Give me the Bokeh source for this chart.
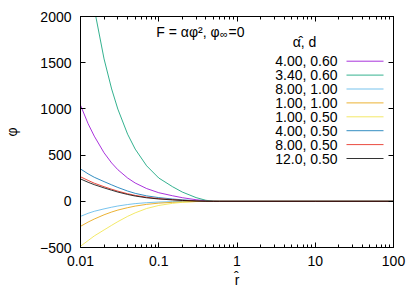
from bokeh.plotting import figure
from bokeh.models import FixedTicker, LogAxis, LinearAxis, Label, Arrow, Range1d
from bokeh.embed import file_html
from bokeh.resources import INLINE

# ---- data ----
r_hat = [0.01, 0.0125, 0.015, 0.02, 0.025, 0.03, 0.04, 0.05, 0.07, 0.1,
         0.15, 0.2, 0.3, 0.4, 0.5, 0.6, 1, 10, 100]

phi_400_060 = [1040, 840, 705, 525, 415, 342, 252, 198, 138, 93, 60, 39, 17, 6, 1, 0, 0, 0, 0]
phi_340_060 = [3150, 2520, 2086, 1541, 1216, 998, 726, 565, 384, 252, 158, 100, 40, 11, 1.5, 0, 0, 0, 0]
phi_800_100 = [-163, -130, -108, -82, -64, -51, -35, -25, -15, -8, -4, -2, -1, 0, 0, 0, 0, 0, 0]
phi_100_100 = [-271, -225, -192, -146, -116, -95, -69, -52, -33, -20, -11, -6, -2, -1, 0, 0, 0, 0, 0]
phi_100_050 = [-486, -425, -375, -310, -260, -220, -163, -125, -78, -45, -22, -11, -3, -1, 0, 0, 0, 0, 0]
phi_400_050 = [350, 297, 260, 213, 178, 150, 111, 86, 59, 40, 25, 16, 6, 1, 0, 0, 0, 0, 0]
phi_800_050 = [265, 226, 196, 158, 131, 110, 82, 64, 44, 29, 18, 11, 4, 1, 0, 0, 0, 0, 0]
phi_120_050 = [242, 206, 180, 145, 120, 100, 74, 57, 38, 25, 15, 9, 3, 1, 0, 0, 0, 0, 0]

series = [phi_400_060, phi_340_060, phi_800_100, phi_100_100,
          phi_100_050, phi_400_050, phi_800_050, phi_120_050]
labels = ["4.00, 0.60", "3.40, 0.60", "8.00, 1.00", "1.00, 1.00",
          "1.00, 0.50", "4.00, 0.50", "8.00, 0.50", "12.0, 0.50"]
colors = ["#9400d3", "#009e73", "#56b4e9", "#e69f00",
          "#f0e442", "#0072b2", "#e51e10", "#000000"]

x_ticks = [0.01, 0.1, 1, 10, 100]
x_tick_labels = ["0.01", "0.1", "1", "10", "100"]
x_minor = [m * 10.0 ** e for e in range(-2, 2) for m in range(2, 10)]
y_ticks = [-500, 0, 500, 1000, 1500, 2000]

FONT = "Liberation Sans"
FS = "14px"

p = figure(width=415, height=290, x_axis_type="log",
           x_range=Range1d(0.01, 100), y_range=Range1d(-500, 2000),
           output_backend="svg", toolbar_location=None,
           min_border_left=77, min_border_right=22,
           min_border_top=16, min_border_bottom=43)
p.grid.visible = False
p.outline_line_color = "black"
p.outline_line_width = 1
p.background_fill_color = "white"
p.border_fill_color = "white"

for ys, c in zip(series, colors):
    p.line(r_hat, ys, line_color=c, line_width=1, line_alpha=0.8)

xt = FixedTicker(ticks=x_ticks, minor_ticks=x_minor)
yt = FixedTicker(ticks=y_ticks, minor_ticks=[])

def style(ax, show_labels):
    ax.axis_line_color = "black"
    ax.major_tick_in = 5
    ax.major_tick_out = 0
    ax.minor_tick_in = 3
    ax.minor_tick_out = 0
    ax.major_tick_line_color = "black"
    ax.minor_tick_line_color = "black"
    ax.major_label_text_font = FONT
    ax.major_label_text_color = "black"
    ax.axis_label_text_font = FONT
    ax.axis_label_text_font_style = "normal"
    ax.axis_label_text_font_size = FS
    ax.axis_label_text_color = "black"
    if show_labels:
        ax.major_label_text_font_size = FS
    else:
        ax.major_label_text_font_size = "1px"
        ax.major_label_text_alpha = 0
        ax.major_label_standoff = 0

xa = p.xaxis[0]
xa.ticker = xt
xa.major_label_overrides = {t: s for t, s in zip(x_ticks, x_tick_labels)}
style(xa, True)
xa.major_label_standoff = 8
xa.axis_label = "r\u0302"
xa.axis_label_standoff = 3

ya = p.yaxis[0]
ya.ticker = yt
style(ya, True)
ya.major_label_standoff = 9
ya.axis_label = "\u03c6"
ya.axis_label_standoff = 17

top = LogAxis(ticker=xt)
style(top, False)
p.add_layout(top, "above")
right = LinearAxis(ticker=yt)
style(right, False)
p.add_layout(right, "right")

# title inside plot
p.add_layout(Label(x=139, y=216, x_units="screen", y_units="screen",
                   text="F = \u03b1\u03c6\u00b2, \u03c6", text_font=FONT, text_font_size=FS,
                   text_align="right", text_baseline="middle", text_color="black"))
p.add_layout(Label(x=139.5, y=213.5, x_units="screen", y_units="screen",
                   text="\u221e", text_font=FONT, text_font_size="11px",
                   text_align="left", text_baseline="middle", text_color="black"))
p.add_layout(Label(x=148, y=216, x_units="screen", y_units="screen",
                   text="=0", text_font=FONT, text_font_size=FS,
                   text_align="left", text_baseline="middle", text_color="black"))

# legend (text right-aligned, sample line to the right, as in gnuplot)
p.add_layout(Label(x=224, y=206, x_units="screen", y_units="screen",
                   text="\u03b1\u0302, d", text_font=FONT, text_font_size=FS,
                   text_align="center", text_baseline="middle", text_color="black"))
for i, (lab, c) in enumerate(zip(labels, colors)):
    yy = 186.3 - 13.9 * i
    p.add_layout(Label(x=257, y=yy, x_units="screen", y_units="screen", text=lab,
                       text_font=FONT, text_font_size=FS, text_align="right",
                       text_baseline="middle", text_color="black"))
    p.add_layout(Arrow(end=None, x_start=266, y_start=yy, x_end=303, y_end=yy,
                       start_units="screen", end_units="screen",
                       line_color=c, line_width=1, line_alpha=0.8))

open("out.html", "w").write(file_html(p, INLINE))
